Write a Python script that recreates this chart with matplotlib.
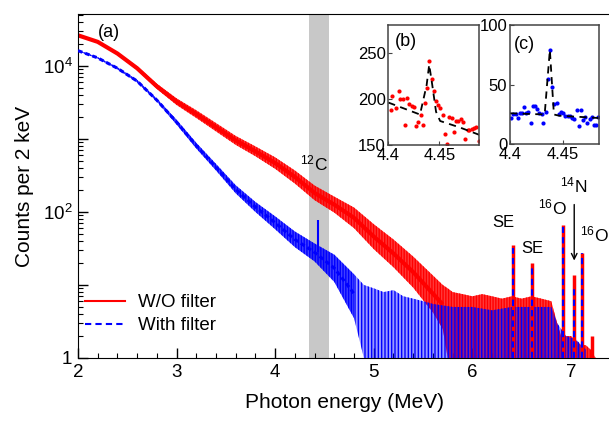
import matplotlib
matplotlib.use('Agg')
from matplotlib import pyplot as plt
from matplotlib.lines import Line2D
from matplotlib.ticker import FixedLocator, MultipleLocator, LogLocator, FuncFormatter
import numpy as np

plt.rcParams['font.family'] = ['Liberation Sans', 'DejaVu Sans']
plt.rcParams['mathtext.fontset'] = 'custom'
plt.rcParams['mathtext.rm'] = 'Liberation Sans'
plt.rcParams['mathtext.it'] = 'Liberation Sans:italic'
plt.rcParams['hatch.linewidth'] = 1.0

# ---- main spectrum (counts per 2 keV) ----
red_e = [2.0, 2.2, 2.4, 2.6, 2.8, 3.0, 3.2, 3.4, 3.6, 3.8, 4.0, 4.2, 4.4, 4.6, 4.8, 5.0, 5.2, 5.4, 5.6, 5.7]
red_mid = [26300, 21400, 14800, 9300, 5250, 3240, 2190, 1445, 955, 676, 468, 302, 182, 126, 83, 46, 27, 15, 7.6, 5.4]
red_lo = [25600, 20600, 14100, 8800, 4850, 2920, 1940, 1270, 830, 580, 390, 245, 145, 98, 60, 31, 17.5, 9.2, 4.2, 2.5]
red_hi = [27000, 22200, 15500, 9850, 5700, 3600, 2470, 1650, 1100, 790, 560, 370, 230, 162, 115, 68, 42, 24.5, 13.5, 10]
# low-count tail: counts between 1 and the upper edge
red_tail_e = [5.75, 5.8, 5.9, 6.0, 6.1, 6.2, 6.3, 6.4, 6.5, 6.6, 6.7, 6.8, 6.86, 6.9, 6.95, 7.0, 7.1, 7.15, 7.2, 7.25]
red_tail_hi = [9, 8, 7.5, 7, 7.5, 7, 6.5, 7, 6.5, 7, 6.5, 6, 3, 2, 2, 2, 1.5, 1.5, 1.3, 1]

blue_e = [2.0, 2.2, 2.4, 2.6, 2.8, 3.0, 3.2, 3.4, 3.6, 3.8, 4.0, 4.2, 4.4, 4.6, 4.8]
blue_mid = [16200, 12900, 9300, 6200, 3400, 1700, 810, 410, 204, 117, 71, 42, 28, 17, 7.6]
blue_lo = [15900, 12600, 9000, 5950, 3250, 1580, 740, 370, 180, 100, 58, 33, 21, 11, 3.5]
blue_hi = [16500, 13200, 9600, 6450, 3550, 1830, 885, 455, 232, 137, 87, 54, 37, 26, 14]
blue_tail_e = [4.9, 5.0, 5.1, 5.2, 5.3, 5.4, 5.5, 5.6, 5.8, 6.0, 6.2, 6.4, 6.6, 6.8, 6.86, 6.95, 7.05, 7.15]
blue_tail_hi = [10, 9, 8, 8.5, 7, 6.5, 6, 5.5, 5, 5, 4.5, 5, 5, 5, 3, 2, 1.8, 1.3]

# full-energy / single-escape lines
peak_e = [6.415, 6.607, 6.917, 7.03, 7.117, 7.21]
red_peak = [35, 20, 66, 13.7, 27, 2]
blue_peak = [32, 17, 62, 9, 27, 1]
c12_e = 4.439
blue_c12 = 78

# ---- insets around the 12C 4.439 MeV line ----
b_e = [4.4024, 4.404, 4.4073, 4.41, 4.4115, 4.414, 4.4164, 4.4186, 4.4206, 4.423, 4.4252, 4.4275,
       4.4294, 4.4318, 4.434, 4.436, 4.4382, 4.4402, 4.4425, 4.4448, 4.4467, 4.449, 4.4507, 4.4533,
       4.4556, 4.4578, 4.4598, 4.4621, 4.4644, 4.4664, 4.4686, 4.471, 4.473, 4.4752, 4.4775, 4.4794,
       4.4818, 4.484, 4.486, 4.489]
b_counts = [188, 203, 190, 208, 200, 200, 172, 201, 194, 192, 191, 171, 175, 183, 172, 195, 212, 241,
            222, 208, 198, 193, 190, 182, 162, 151, 180, 179, 164, 176, 176, 178, 175, 157, 166, 166,
            167, 168, 169, 154]
b_fit_e = [4.400, 4.431, 4.4375, 4.440, 4.443, 4.4467, 4.4507, 4.470, 4.489]
b_fit = [196, 183, 215, 237, 215, 186, 176, 169, 161]

c_e = [4.4009, 4.4031, 4.4053, 4.4072, 4.4094, 4.4115, 4.4131, 4.415, 4.4172, 4.4194, 4.4213, 4.4235,
       4.4256, 4.4275, 4.4298, 4.4313, 4.4335, 4.4354, 4.4375, 4.4397, 4.4416, 4.4438, 4.446, 4.4478,
       4.45, 4.4522, 4.4541, 4.4563, 4.4585, 4.4603, 4.4626, 4.4647, 4.4666, 4.4688, 4.471, 4.4729,
       4.475, 4.4772, 4.4791, 4.4813, 4.4829]
c_counts = [22, 25, 25, 22, 26, 26, 31, 26, 27, 18, 32, 32, 30, 26, 25, 18, 27, 55, 79, 48, 34, 35,
            25, 27, 26, 24, 24, 24, 22, 21, 29, 15, 29, 20, 23, 18, 21, 23, 16, 16, 23]
c_fit_e = [4.400, 4.4326, 4.4375, 4.4413, 4.446, 4.484]
c_fit = [26, 25, 79, 25, 24, 22]

W, H = 609, 421
fig = plt.figure(figsize=(W / 100, H / 100), dpi=100)


def box(x0, y0, x1, y1):
    return [x0 / W, 1 - y1 / H, (x1 - x0) / W, (y1 - y0) / H]


ax = fig.add_axes(box(78, 14, 610.4, 358))
ax.axvspan(4.343, 4.546, color='#c8c8c8', lw=0, zorder=0)

# W/O filter: noisy band + low-count tail
ax.fill_between(red_e + red_tail_e, red_lo + [1] * len(red_tail_e), red_hi + red_tail_hi,
                facecolor=(1, 0, 0, 0.78), edgecolor='red', hatch='||||||', lw=0, zorder=2)
ax.plot(red_e, red_mid, color='red', lw=3, solid_capstyle='butt', zorder=2)
# with filter
ax.fill_between(blue_e, blue_lo, blue_hi,
                facecolor=(0, 0, 1, 0.75), edgecolor='blue', hatch='||||||', lw=0, zorder=3)
ax.fill_between([blue_e[-1]] + blue_tail_e, [blue_lo[-1]] + [1] * len(blue_tail_e),
                [blue_hi[-1]] + blue_tail_hi,
                facecolor=(0, 0, 1, 0.4), edgecolor='blue', hatch='|||||', lw=0, zorder=3)
ax.plot(blue_e, blue_mid, color='blue', lw=2.2, ls=(0, (1.5, 1)), zorder=3)

ax.vlines(peak_e, 1, red_peak, color='red', lw=2.5, zorder=4)
ax.vlines(peak_e, 1, blue_peak, color='blue', lw=1.5, linestyles=(0, (3, 2)), zorder=5)
ax.vlines([c12_e], blue_mid[12], [blue_c12], color='blue', lw=1.5, zorder=3)

ax.set_xlim(2, 7.4)
ax.set_yscale('log')
ax.set_ylim(1, 5.15e4)
ax.xaxis.set_major_locator(FixedLocator([2, 3, 4, 5, 6, 7]))
ax.xaxis.set_minor_locator(MultipleLocator(0.2))
ax.yaxis.set_major_locator(LogLocator(base=10, numticks=10))
ax.yaxis.set_minor_locator(LogLocator(base=10, subs=np.arange(2, 10), numticks=20))
ylab = {1: '1', 100: r'$10^2$', 10000: r'$10^4$'}
ax.yaxis.set_major_formatter(FuncFormatter(lambda v, p: ylab.get(int(round(v)), '')))
ax.yaxis.set_minor_formatter(FuncFormatter(lambda v, p: ''))
ax.tick_params(which='both', direction='in', top=False, right=False)
ax.tick_params(which='major', length=7, width=1, labelsize=13.5, pad=4)
ax.tick_params(which='minor', length=3.5, width=0.8)
ax.set_xlabel('Photon energy (MeV)', fontsize=15, labelpad=9)
ax.set_ylabel('Counts per 2 keV', fontsize=15, labelpad=6)

ax.text(0.058, 0.945, '(a)', transform=ax.transAxes, fontsize=13, ha='center', va='center')
ax.text(4.393, 469, r'$^{12}$C', fontsize=12.5, ha='center', va='center')
ax.text(6.31, 70.7, 'SE', fontsize=12, ha='center', va='center')
ax.text(6.604, 32, 'SE', fontsize=12, ha='center', va='center')
ax.text(6.817, 117, r'$^{16}$O', fontsize=12.5, ha='center', va='center')
ax.text(7.03, 234, r'$^{14}$N', fontsize=12.5, ha='center', va='center')
ax.text(7.243, 50, r'$^{16}$O', fontsize=12.5, ha='center', va='center')
ax.annotate('', xy=(7.033, 19.8), xytext=(7.033, 138),
            arrowprops=dict(arrowstyle='->', color='black', lw=1, mutation_scale=10))

handles = [Line2D([], [], color='red', lw=1.5),
           Line2D([], [], color='blue', lw=1.5, ls=(0, (3, 2)))]
ax.legend(handles, ['W/O filter', 'With filter'], loc='lower left', bbox_to_anchor=(-0.018, 0.02),
          frameon=False, fontsize=13.5, handlelength=2.1, handletextpad=0.7, labelspacing=0.3)

# insets
for pos, xs, ys, fx, fy, col, lims, yt, tag, tagpos in [
        (box(388.3, 25, 479.3, 145), b_e, b_counts, b_fit_e, b_fit, 'red', (150, 280), [150, 200, 250], '(b)', (0.195, 0.862)),
        (box(510, 25, 599.3, 144.3), c_e, c_counts, c_fit_e, c_fit, 'blue', (0, 100), [0, 50, 100], '(c)', (0.162, 0.84))]:
    ia = fig.add_axes(pos)
    ia.plot(xs, ys, 'o', color=col, ms=3, mec='none')
    ia.plot(fx, fy, color='black', lw=1.3, ls=(0, (4, 3)))
    ia.set_xlim(4.4, 4.489 if col == 'red' else 4.484)
    ia.set_ylim(*lims)
    ia.set_xticks([4.4, 4.45])
    ia.set_xticklabels(['4.4', '4.45'])
    ia.set_yticks(yt)
    ia.tick_params(direction='in', length=3, labelsize=12, pad=2, color='#444444')
    for s in ia.spines.values():
        s.set_color('#444444')
        s.set_linewidth(1.1)
    ia.text(tagpos[0], tagpos[1], tag, transform=ia.transAxes, fontsize=13, ha='center', va='center')

fig.savefig('out.png', dpi=100)
